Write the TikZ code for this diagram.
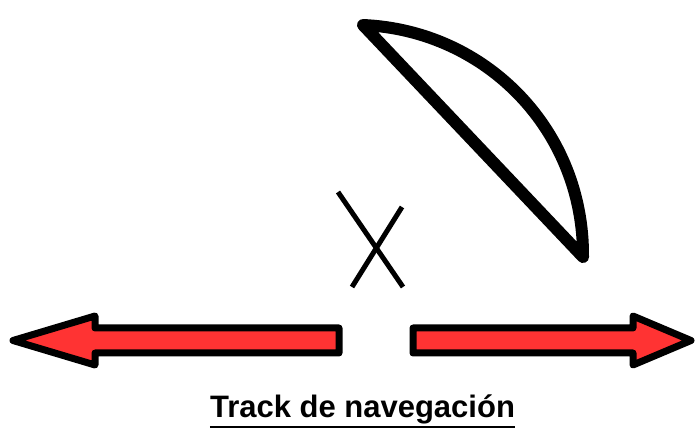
\documentclass[tikz,border=0pt]{standalone}
\usepackage{fontspec}
\setmainfont{Liberation Sans}
\definecolor{arrowred}{HTML}{FF3333}
\tikzset{
  blockarrow/.style={draw=black, fill=arrowred, line width=7pt, line join=round},
  boatline/.style={draw=black, line width=12pt, line join=round, line cap=round},
  crossline/.style={draw=black, line width=5pt},
}
\begin{document}
\begin{tikzpicture}[x=1pt,y=1pt]
    \useasboundingbox (0,0) rectangle (697,429);
    % flechas
    \draw[blockarrow] (13,88.5) -- (95,113) -- (95,101) -- (339,101) -- (339,76)
                      -- (95,76) -- (95,64) -- cycle;
    \draw[blockarrow] (691,88.5) -- (633,113) -- (633,101) -- (413,101) -- (413,76)
                      -- (633,76) -- (633,64) -- cycle;
    % barco
    \coordinate (proa) at (363,404);
    \coordinate (popa) at (583,172);
    \draw[boatline] (proa) to[bend left=44] (popa) -- cycle;
    % posicion
    \coordinate (xa1) at (338,237);
    \coordinate (xa2) at (403,142);
    \coordinate (xb1) at (402,222);
    \coordinate (xb2) at (352,142);
    \draw[crossline] (xa1) -- (xa2);
    \draw[crossline] (xb1) -- (xb2);
    % titulo
    \node[anchor=base, inner sep=0pt] (titulo) at (362.5,12)
         {\fontsize{31}{36}\selectfont\bfseries Track de navegación};
    \draw[line width=2.5pt] ([yshift=-10pt]titulo.base west) -- ([yshift=-10pt]titulo.base east);
\end{tikzpicture}
\end{document}
